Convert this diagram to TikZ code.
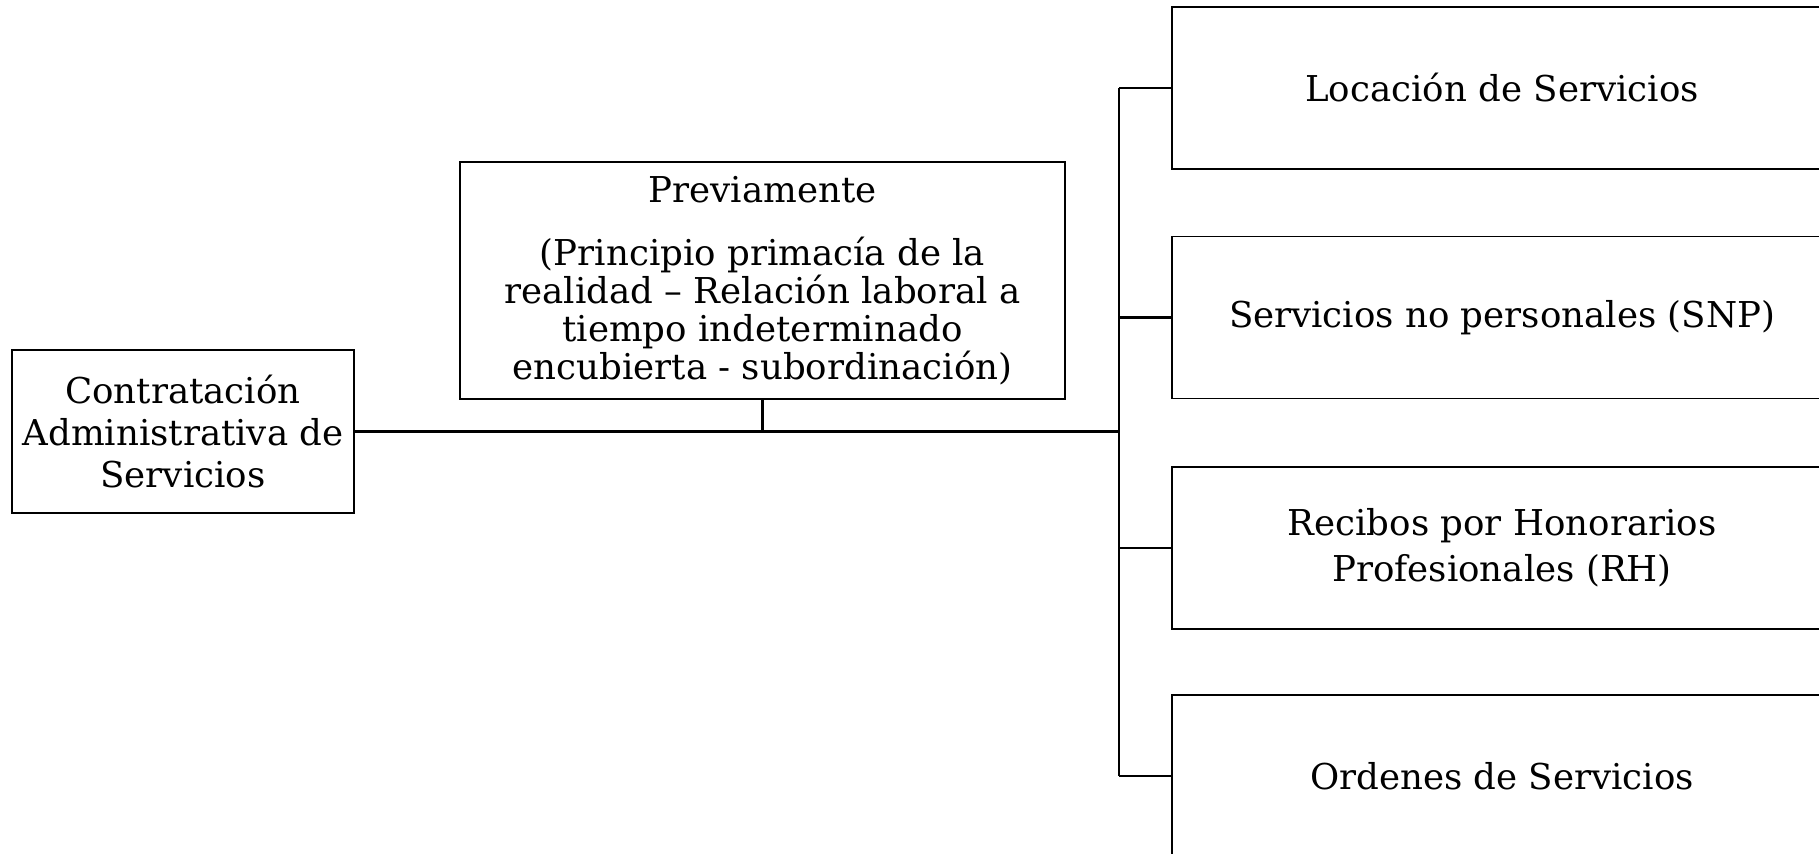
\documentclass[tikz,border=0pt]{standalone}
\usepackage{fontspec}
\setmainfont{DejaVu Serif}
\begin{document}
\begin{tikzpicture}[x=0.5pt,y=-0.5pt,
  box/.style={draw=black,line width=0.9pt,rectangle,align=center,inner sep=2pt,
    font=\fontsize{17.8}{21}\selectfont},
  conn/.style={draw=black,line width=1.1pt}]
\useasboundingbox (0,0) rectangle (1819,853);
\clip (0,0) rectangle (1819,853);
\node[box,minimum width=171pt,minimum height=81.5pt] (L) at (183,431.5)
  {Contratación\\Administrativa de\\Servicios};
\node[box,minimum width=302.5pt,minimum height=118.5pt,font=\fontsize{17.8}{19}\selectfont] (P) at (762.5,280.5)
  {Previamente\\[12.5pt](Principio primacía de la\\realidad – Relación laboral a\\tiempo indeterminado\\encubierta - subordinación)};
\node[box,minimum width=330pt,minimum height=81pt] (R1) at (1502,88) {Locación de Servicios};
\node[box,minimum width=330pt,minimum height=81pt] (R2) at (1502,317.5) {Servicios no personales (SNP)};
\node[box,minimum width=330pt,minimum height=81pt,font=\fontsize{17.8}{23}\selectfont] (R3) at (1502,548) {Recibos por Honorarios\\Profesionales (RH)};
\node[box,minimum width=330pt,minimum height=81pt] (R4) at (1502,776) {Ordenes de Servicios};
\coordinate (t) at (1119,431.5);
\draw[conn] (L.east) -- (t);
\draw[conn] (P.south) -- (P.south |- t);
\draw[conn] (t |- R1.west) -- (t |- R4.west);
\draw[conn] (t |- R1.west) -- (R1.west);
\draw[conn] (t |- R2.west) -- (R2.west);
\draw[conn] (t |- R3.west) -- (R3.west);
\draw[conn] (t |- R4.west) -- (R4.west);
\end{tikzpicture}
\end{document}
